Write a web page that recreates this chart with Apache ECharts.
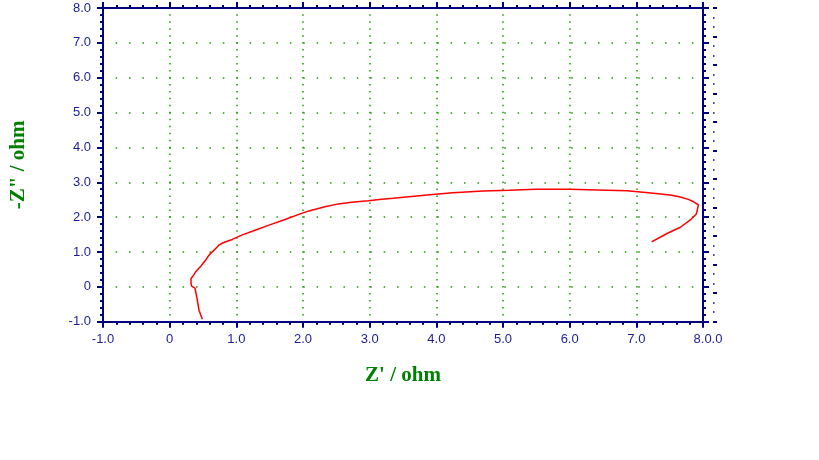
<!DOCTYPE html>
<html>
<head>
<meta charset="utf-8">
<script src="https://cdn.jsdelivr.net/npm/echarts@6/dist/echarts.min.js"></script>
<style>html,body{margin:0;padding:0;background:#fff;}#c{width:819px;height:460px;}</style>
</head>
<body>
<div id="c"></div>
<script>
// Nyquist data: Z' (ohm) and -Z'' (ohm)
var zReal = [0.49,0.44,0.41,0.38,0.33,0.32,0.32,0.35,0.39,0.47,0.54,0.59,0.67,0.74,0.82,0.94,1.09,1.29,1.49,1.74,2.01,2.13,2.33,2.53,2.73,2.98,3.18,3.35,3.55,3.90,4.25,4.70,5.09,5.49,6.00,6.41,6.86,7.18,7.33,7.53,7.66,7.78,7.86,7.93,7.92,7.90,7.81,7.66,7.46,7.23];
var zImag = [-0.93,-0.67,-0.33,-0.04,0.02,0.10,0.24,0.31,0.43,0.60,0.77,0.91,1.06,1.20,1.28,1.36,1.49,1.63,1.77,1.94,2.13,2.20,2.30,2.38,2.43,2.47,2.51,2.54,2.58,2.64,2.70,2.75,2.77,2.80,2.80,2.78,2.76,2.70,2.67,2.63,2.58,2.51,2.44,2.35,2.25,2.09,1.92,1.71,1.53,1.29];
var xTickMin = -1, xTickMax = 8, yTickMin = -1, yTickMax = 8;
var xTitle = "Z' / ohm";
var yTitle = '-Z" / ohm';

var pts = zReal.map(function (v, i) { return [v, zImag[i]]; });
var navy = '#000080';
var green = '#1a9a00';
var labelColor = '#1c1c9c';
function fmt(v) {
  if (v === 0) return '0';
  if (v === xTickMax) return '{e|8.0.0}';
  return v.toFixed(1);
}
function fmtY(v) { return v === 0 ? '0' : v.toFixed(1); }

var chart = echarts.init(document.getElementById('c'), null, {renderer: 'canvas'});
var baseAxisLine = {show: true, onZero: false, lineStyle: {color: navy, width: 2}};
var baseTick = {show: true, inside: false, length: 6, lineStyle: {color: navy, width: 2}};
var baseMinor = {show: true, splitNumber: 5, length: 3, lineStyle: {color: navy, width: 2}};
chart.setOption({
  animation: false,
  backgroundColor: '#ffffff',
  grid: {left: 100, top: 8, width: 603, height: 313.7, containLabel: false},
  xAxis: [{
    type: 'value', position: 'bottom', min: xTickMin, max: xTickMax, interval: 1,
    axisLine: baseAxisLine, axisTick: baseTick, minorTick: baseMinor,
    axisLabel: {formatter: fmt, color: labelColor, fontFamily: 'Liberation Sans', fontSize: 13, margin: 11,
      rich: {e: {padding: [0, 0, 0, 10], color: labelColor, fontFamily: 'Liberation Sans', fontSize: 13}}},
    splitLine: {show: true, lineStyle: {color: green, width: 1.5, type: [1.5, 5.47], dashOffset: 0.75}},
    name: xTitle, nameLocation: 'middle', nameGap: 43,
    nameTextStyle: {color: '#008000', fontFamily: 'Liberation Serif', fontWeight: 'bold', fontSize: 21}
  }, {
    type: 'value', position: 'top', min: xTickMin, max: xTickMax, interval: 1,
    axisLine: baseAxisLine, axisTick: baseTick, minorTick: baseMinor,
    axisLabel: {show: false}, splitLine: {show: false}
  }],
  yAxis: [{
    type: 'value', position: 'left', min: yTickMin, max: yTickMax, interval: 1,
    axisLine: baseAxisLine, axisTick: baseTick, minorTick: baseMinor,
    axisLabel: {formatter: fmtY, color: labelColor, fontFamily: 'Liberation Sans', fontSize: 13, margin: 12},
    splitLine: {show: true, lineStyle: {color: green, width: 1.5, type: [1.5, 11.9], dashOffset: 0.75}},
    name: yTitle, nameLocation: 'middle', nameGap: 74, nameRotate: 90,
    nameTextStyle: {color: '#008000', fontFamily: 'Liberation Serif', fontWeight: 'bold', fontSize: 21}
  }, {
    type: 'value', position: 'right', min: yTickMin, max: yTickMax, interval: 1,
    axisLine: baseAxisLine, axisTick: baseTick, minorTick: baseMinor,
    axisLabel: {show: false}, splitLine: {show: false}
  }, {
    type: 'value', position: 'right', offset: 10, min: 0, max: 11, interval: 1,
    axisLine: {show: false, onZero: false}, axisTick: {show: true, inside: false, length: 4, lineStyle: {color: navy, width: 2}},
    minorTick: {show: true, splitNumber: 3, length: 1.5, lineStyle: {color: navy, width: 1.5}},
    axisLabel: {show: false}, splitLine: {show: false}
  }],
  series: [{
    type: 'line', xAxisIndex: 0, yAxisIndex: 0, data: pts, showSymbol: false, smooth: false,
    lineStyle: {color: '#ff0000', width: 1.5}, silent: true
  }]
});
</script>
</body>
</html>
